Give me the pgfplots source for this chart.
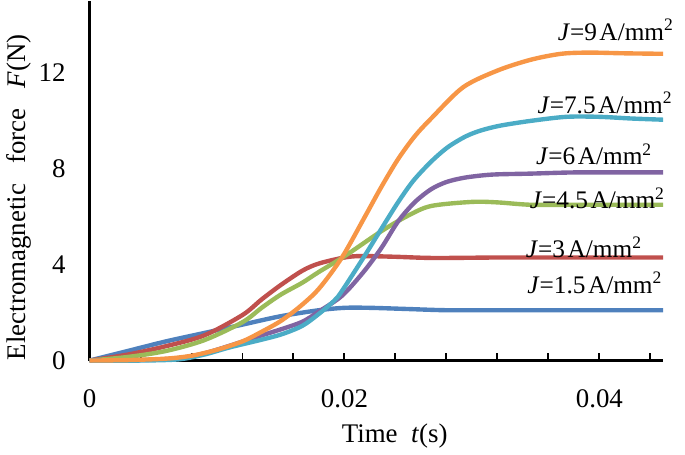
\documentclass[border=0pt]{standalone}
\usepackage{pgfplots}
\pgfplotsset{compat=1.18}
\usepackage{fontspec}
\setmainfont{Liberation Serif}
\definecolor{cblue}{HTML}{4F81BD}
\definecolor{cred}{HTML}{C0504D}
\definecolor{cgreen}{HTML}{9BBB59}
\definecolor{cpurple}{HTML}{8064A2}
\definecolor{ccyan}{HTML}{4BACC6}
\definecolor{corange}{HTML}{F79646}
\newcommand{\sq}{\raisebox{0.38em}{\fontsize{8.8pt}{10pt}\selectfont 2}}
\newcommand{\gp}{\hspace{0.1em}}
\begin{document}
\begin{tikzpicture}[font=\fontsize{13.5pt}{16pt}\selectfont]
\begin{axis}[
  scale only axis,
  width=288pt, height=180.5pt,
  xmin=0, xmax=0.045, ymin=0, ymax=15,
  axis x line*=bottom, axis y line*=left,
  axis line style={line width=1.1pt, black},
  scaled x ticks=false,
  xtick={0,0.004,0.008,0.012,0.016,0.02,0.024,0.028,0.032,0.036,0.04,0.044},
  xticklabels={0,,,,,0.02,,,,,0.04,},
  ytick={0,4,8,12},
  tick align=inside,
  x tick style={line width=1pt, black},
  major tick length=4pt,
  y tick style={draw=none},
  /pgf/number format/assume math mode=true,
  yticklabel style={xshift=-8.5pt},
  xticklabel style={yshift=-11pt},
  xlabel={Time\ \ \textit{t}(s)},
  ylabel={Electromagnetic\hspace{0.75em}force\hspace{0.75em}\textit{F}(N)},
  xlabel style={at={(axis description cs:0.532,-0.21)},anchor=center},
  ylabel style={at={(axis description cs:-0.123,0.454)},anchor=center},
  clip=false,
  every axis plot/.append style={line width=2.2pt, smooth, no markers},
]
% J=1.5
\addplot[cblue] coordinates {(0,0)(0.003,0.4)(0.006,0.8)(0.009,1.15)(0.012,1.5)(0.015,1.85)(0.018,2.1)(0.02,2.2)(0.022,2.2)(0.025,2.15)(0.028,2.1)(0.032,2.1)(0.036,2.1)(0.04,2.1)(0.045,2.1)};
% J=3
\addplot[cred] coordinates {(0,0)(0.003,0.25)(0.006,0.6)(0.009,1.05)(0.012,1.9)(0.0135,2.55)(0.015,3.15)(0.0167,3.75)(0.018,4.05)(0.02,4.3)(0.0213,4.36)(0.024,4.33)(0.027,4.28)(0.032,4.3)(0.036,4.3)(0.04,4.3)(0.045,4.3)};
% J=4.5
\addplot[cgreen] coordinates {(0,0)(0.003,0.15)(0.006,0.4)(0.009,0.85)(0.012,1.6)(0.0135,2.2)(0.015,2.75)(0.0167,3.25)(0.018,3.7)(0.02,4.35)(0.0229,5.4)(0.025,6.05)(0.0268,6.45)(0.03,6.62)(0.032,6.6)(0.0346,6.5)(0.038,6.5)(0.042,6.5)(0.045,6.5)};
% J=6
\addplot[cpurple] coordinates {(0,0)(0.004,0.02)(0.007,0.1)(0.009,0.3)(0.011,0.62)(0.0135,1.05)(0.015,1.3)(0.0167,1.62)(0.018,2.05)(0.0198,2.7)(0.0215,3.7)(0.0229,4.7)(0.0242,5.8)(0.0255,6.6)(0.0268,7.15)(0.028,7.45)(0.0293,7.62)(0.0307,7.72)(0.032,7.77)(0.0346,7.8)(0.038,7.85)(0.042,7.85)(0.045,7.85)};
% J=7.5
\addplot[ccyan] coordinates {(0,0)(0.004,0)(0.007,0.05)(0.009,0.25)(0.011,0.55)(0.0135,0.87)(0.0151,1.1)(0.0167,1.45)(0.018,1.95)(0.0192,2.5)(0.0198,2.9)(0.0215,4.3)(0.0229,5.5)(0.0242,6.6)(0.0254,7.5)(0.0268,8.3)(0.0281,8.9)(0.0295,9.35)(0.0307,9.6)(0.0322,9.8)(0.0346,10.0)(0.0374,10.17)(0.04,10.17)(0.0425,10.1)(0.045,10.05)};
% J=9
\addplot[corange] coordinates {(0,0)(0.003,0.02)(0.006,0.08)(0.008,0.2)(0.01,0.45)(0.012,0.8)(0.0135,1.2)(0.015,1.65)(0.0165,2.25)(0.018,3.0)(0.0198,4.3)(0.0216,6.0)(0.0229,7.25)(0.0242,8.4)(0.0255,9.35)(0.0268,10.1)(0.0293,11.4)(0.032,12.1)(0.0346,12.55)(0.037,12.8)(0.0392,12.85)(0.042,12.82)(0.045,12.8)};
\begin{scope}[every node/.style={anchor=east, inner sep=0pt, font=\fontsize{12.7pt}{15pt}\selectfont}]
\node at (axis cs:0.0458,13.8) {\textit{J}=9\gp A/mm\sq};
\node at (axis cs:0.0457,10.76) {\textit{J}=7.5\gp A/mm\sq};
\node at (axis cs:0.0441,8.6) {\textit{J}=6\gp A/mm\sq};
\node at (axis cs:0.0451,6.77) {\textit{J}=4.5\gp A/mm\sq};
\node at (axis cs:0.0433,4.73) {\textit{J}=3\gp A/mm\sq};
\node at (axis cs:0.0449,3.24) {\textit{J}=1.5\gp A/mm\sq};
\end{scope}
\path (rel axis cs:1,0) ++(11pt,0) coordinate (rr);
\path (rr) -- (rr);
\end{axis}
\end{tikzpicture}
\end{document}
